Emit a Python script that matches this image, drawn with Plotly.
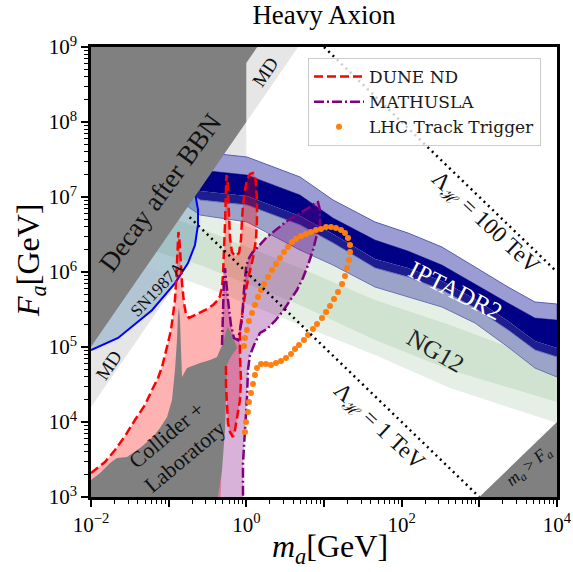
import numpy as np
import plotly.graph_objects as go

SERIF = "Liberation Serif, DejaVu Serif, serif"

# ===== data: log10(m_a / GeV) and log10(F_a / GeV) =====
md_low_lm = [-2.0, 0.0, 0.0, -2.0]
md_low_lf = [4.2, 7.2, 8.0, 5.0]
md_up_lm = [0.0, 0.667, 0.142, 0.0]
md_up_lf = [8.0, 9.0, 9.0, 8.787]

bbn_lm = [-2.0, 0.0, 0.0, 0.142, -2.0]
bbn_lf = [5.0, 8.0, 8.787, 9.0, 9.0]

sn_lm = [-2.0, -1.652, -1.215, -0.918, -0.751, -0.661, -0.622, -0.622, -0.655]
sn_lf = [4.96, 5.12, 5.49, 5.853, 6.12, 6.36, 6.63, 6.83, 7.02]

ipta_lm = [-1.0, -0.597, 0.009, 0.691, 1.116, 1.657, 2.081, 2.519, 2.944, 3.369, 3.716, 4.0]
ipta_outer_hi = [7.90, 7.600, 7.533, 7.267, 6.960, 6.667, 6.520, 6.333, 6.067, 5.800, 5.600, 5.573]
ipta_core_hi = [7.65, 7.360, 7.293, 7.027, 6.720, 6.427, 6.280, 6.093, 5.840, 5.587, 5.387, 5.360]
ipta_core_lo = [7.25, 6.960, 6.893, 6.627, 6.387, 6.053, 5.933, 5.760, 5.520, 5.227, 4.960, 4.867]
ipta_outer_lo = [7.05, 6.760, 6.667, 6.293, 6.093, 5.800, 5.667, 5.533, 5.320, 5.000, 4.720, 4.600]

ng_lm = [-1.6, -1.240, -0.597, 0.691, 1.657, 2.622, 4.0]
ng_outer_hi = [7.20, 7.027, 6.827, 6.360, 6.000, 5.627, 5.027]
ng_core_hi = [7.00, 6.827, 6.587, 6.053, 5.627, 5.293, 4.760]
ng_core_lo = [6.50, 6.293, 6.093, 5.560, 5.093, 4.693, 4.267]
ng_outer_lo = [6.25, 6.053, 5.827, 5.293, 4.893, 4.453, 3.987]

coll_lm = [-2.0, -2.0, -1.884, -1.755, -1.665, -1.537, -1.369, -1.202, -1.112, -1.021, -0.957,
           -0.919, -0.893, -0.880, -0.867, -0.854, -0.841, -0.828, -0.764, -0.597, -0.468, -0.378,
           -0.300, -0.262, -0.236, -0.185, -0.120, -0.210, -0.249, -0.262, -0.275, -0.313, -0.365]
coll_lf = [3.0, 3.227, 3.32, 3.453, 3.52, 3.533, 3.653, 3.80, 3.92, 4.067, 4.293,
           4.693, 5.093, 5.427, 5.533, 5.36, 4.96, 4.60, 4.72, 4.787, 4.827, 4.867,
           5.053, 5.2, 5.267, 5.16, 4.987, 4.853, 4.76, 4.293, 3.893, 3.36, 3.0]

dune_lm = [-2.000, -1.820, -1.691, -1.562, -1.434, -1.305, -1.215, -1.137, -1.086, -1.034, -1.009,
           -0.970, -0.944, -0.919, -0.906, -0.893, -0.880, -0.874, -0.861, -0.848, -0.828, -0.803,
           -0.777, -0.738, -0.661, -0.597, -0.506, -0.429, -0.365, -0.339, -0.313, -0.300, -0.288,
           -0.275, -0.262, -0.256, -0.243, -0.230, -0.210, -0.185, -0.146, -0.094, -0.069, -0.056,
           -0.043, -0.017, 0.009, 0.047, 0.086, 0.111, 0.124, 0.137, 0.137, 0.124, 0.086, 0.034,
           -0.017, -0.056, -0.082, -0.082, -0.069, -0.082, -0.107, -0.146, -0.172, -0.210, -0.236,
           -0.249, -0.262, -0.262]
dune_lf = [3.320, 3.467, 3.627, 3.813, 4.027, 4.227, 4.427, 4.587, 4.733, 4.933, 5.053,
           5.227, 5.400, 5.627, 5.853, 6.093, 6.360, 6.533, 6.427, 6.133, 5.853, 5.587,
           5.440, 5.387, 5.427, 5.453, 5.507, 5.560, 5.627, 5.680, 5.800, 5.960, 6.227,
           6.627, 7.093, 7.293, 7.253, 6.827, 6.453, 6.267, 6.213, 6.253, 6.427, 6.693,
           6.893, 7.093, 7.227, 7.307, 7.320, 7.280, 7.187, 6.960, 6.693, 6.427, 6.187, 5.960,
           5.693, 5.427, 5.227, 4.893, 4.560, 4.293, 4.120, 3.893, 3.800, 3.867, 3.987,
           4.227, 4.493, 4.787]
dune_close_lm = [-0.30, -0.33, -2.0]
dune_close_lf = [4.0, 3.0, 3.0]

math_lm = [-0.313, -0.300, -0.288, -0.275, -0.262, -0.236, -0.198, -0.159, -0.107, -0.056, -0.030,
           -0.004, 0.021, 0.073, 0.137, 0.266, 0.395, 0.524, 0.691, 0.820, 0.884, 0.923, 0.948,
           0.948, 0.897, 0.858, 0.794, 0.729, 0.652, 0.562, 0.472, 0.369, 0.266, 0.176, 0.099,
           0.047, 0.021, 0.009, -0.017, -0.043, -0.043]
math_lf = [5.027, 5.627, 5.893, 6.053, 5.893, 5.627, 5.293, 5.120, 5.093, 5.360, 5.760,
           6.053, 6.160, 6.253, 6.320, 6.467, 6.573, 6.680, 6.787, 6.867, 6.920, 6.933, 6.827,
           6.627, 6.453, 6.293, 6.093, 5.920, 5.760, 5.613, 5.480, 5.347, 5.240, 5.187, 5.027,
           4.893, 4.693, 4.333, 3.893, 3.453, 3.000]
math_close_lm = [-0.365]
math_close_lf = [3.0]

lhc_lm = [-0.017, -0.004, 0.021, 0.034, 0.060, 0.086, 0.111, 0.137,
          0.189, 0.253, 0.317, 0.382, 0.446, 0.511, 0.575, 0.627, 0.678, 0.742, 0.794, 0.858,
          0.910, 0.974, 1.026, 1.077, 1.129, 1.180, 1.232, 1.270, 1.296, 1.322, 1.335, 1.335,
          1.309, 1.270, 1.219, 1.154, 1.090, 1.026, 0.961, 0.897, 0.833, 0.768, 0.704, 0.639,
          0.588, 0.536, 0.485, 0.433, 0.382, 0.330, 0.279, 0.227, 0.189, 0.150, 0.111, 0.073,
          0.034, 0.008, -0.017, -0.030]
lhc_lf = [3.867, 4.000, 4.133, 4.267, 4.387, 4.507, 4.627, 4.720,
          4.773, 4.773, 4.760, 4.787, 4.813, 4.853, 4.907, 4.973, 5.027, 5.093, 5.160, 5.240,
          5.307, 5.387, 5.467, 5.547, 5.640, 5.733, 5.840, 5.947, 6.053, 6.160, 6.267, 6.360,
          6.453, 6.520, 6.560, 6.587, 6.600, 6.600, 6.573, 6.560, 6.533, 6.507, 6.480, 6.440,
          6.400, 6.333, 6.267, 6.187, 6.107, 6.027, 5.933, 5.840, 5.760, 5.667, 5.560, 5.453,
          5.347, 5.227, 5.120, 5.013]

lambda_gev = [1e3, 1e5]          # Lambda_H = 1 TeV, 100 TeV
lambda_lm_start = [-0.73, 1.0]
lambda_lm_end = [3.0, 4.0]

x_tick_vals = [1e-2, 1e-1, 1e0, 1e1, 1e2, 1e3, 1e4]
x_tick_text = ["10<sup>−2</sup>", "", "10<sup>0</sup>", "", "10<sup>2</sup>", "", "10<sup>4</sup>"]
y_tick_vals = [1e3, 1e4, 1e5, 1e6, 1e7, 1e8, 1e9]
y_tick_text = ["10<sup>%d</sup>" % k for k in range(3, 10)]


def P(a):
    return [10.0 ** v for v in a]


fig = go.Figure()


def poly(lm, lf, color, line=None):
    kw = dict(x=P(lm), y=P(lf), fill="toself", fillcolor=color, hoverinfo="skip", showlegend=False)
    if line is None:
        kw["mode"] = "none"
    else:
        kw["mode"] = "lines"
        kw["line"] = line
    fig.add_trace(go.Scatter(**kw))


def band(lm, hi, lo, color, line=None):
    poly(list(lm) + list(lm[::-1]), list(hi) + list(lo[::-1]), color, line)


# MD
poly(md_low_lm, md_low_lf, "#e6e6e6")
poly(md_up_lm, md_up_lf, "#e6e6e6")
# NG12
band(ng_lm, ng_outer_hi, ng_outer_lo, "#e6efe6")
band(ng_lm, ng_core_hi, ng_core_lo, "#d0e2d0")
# IPTA DR2
strip_hi = [v + 0.12 for v in ipta_core_lo]
band(ipta_lm, ipta_outer_hi, ipta_core_hi, "#9c9cd5", dict(color="#5a5ab0", width=1))
band(ipta_lm, ipta_core_hi, strip_hi, "#000086")
band(ipta_lm, strip_hi, ipta_core_lo, "#1d1d8f")
band(ipta_lm, ipta_core_lo, ipta_outer_lo, "#9ba3c9", dict(color="#6a72b5", width=1))
# SN1987A
poly(sn_lm + [-2.0], sn_lf + [5.0], "rgba(70,130,180,0.33)")
fig.add_trace(go.Scatter(x=P(sn_lm), y=P(sn_lf), mode="lines", line=dict(color="#0000ff", width=2),
                         hoverinfo="skip", showlegend=False))
# BBN
poly(bbn_lm, bbn_lf, "#808080")
# DUNE / MATHUSLA fills
poly(dune_lm + dune_close_lm, dune_lf + dune_close_lf, "rgba(255,0,0,0.3)")
poly(math_lm + math_close_lm, math_lf + math_close_lf, "rgba(128,0,128,0.3)")
# Collider + Laboratory
poly(coll_lm, coll_lf, "#808080")
# outlines
fig.add_trace(go.Scatter(x=P(dune_lm), y=P(dune_lf), mode="lines", name="DUNE ND",
                         line=dict(color="#ff0000", width=2.5, dash="9px,4px"),
                         hoverinfo="skip", legendrank=1))
fig.add_trace(go.Scatter(x=P(math_lm), y=P(math_lf), mode="lines", name="MATHUSLA",
                         line=dict(color="#800080", width=2.5, dash="10px,3px,2px,3px"),
                         hoverinfo="skip", legendrank=2))
fig.add_trace(go.Scatter(x=P(lhc_lm), y=P(lhc_lf), mode="markers", name="LHC Track Trigger",
                         marker=dict(color="#ff7f0e", size=6, line=dict(width=0)),
                         hoverinfo="skip", legendrank=3))
# Lambda_H lines: F_a = Lambda^2 / m_a
for lam, a, b in zip(lambda_gev, lambda_lm_start, lambda_lm_end):
    m = np.logspace(a, b, 50)
    fig.add_trace(go.Scatter(x=m, y=lam ** 2 / m, mode="lines",
                             line=dict(color="black", width=2.5, dash="2px,4px"),
                             hoverinfo="skip", showlegend=False))
# m_a > F_a
fig.add_trace(go.Scatter(x=[1e3, 1e4, 1e4], y=[1e3, 1e3, 1e4], fill="toself", fillcolor="#808080",
                         mode="none", hoverinfo="skip", showlegend=False))

TXT = "#111111"


def note(text, lx, ly, ang, size, color=TXT):
    fig.add_annotation(x=lx, y=ly, xref="x", yref="y", text=text, showarrow=False,
                       textangle=ang, font=dict(family=SERIF, size=size, color=color))


note("Decay after BBN", -1.11, 7.05, -54, 27)
note("SN1987A", -1.15, 5.77, -46, 17)
note("MD", -1.78, 4.76, -56, 19)
note("MD", 0.25, 8.67, -56, 19)
note("Collider +<br>Laboratory", -0.91, 3.68, -40, 22)
note("IPTADR2", 2.69, 5.75, 27, 25, "white")
note("NG12", 2.43, 4.95, 30, 25, "#222222")
note("Λ<sub>ℋ</sub> = 100 TeV", 3.07, 6.65, 43, 23)
note("Λ<sub>ℋ</sub> = 1 TeV", 1.70, 3.93, 43, 23)
note("<i>m<sub>a</sub></i> > <i>F<sub>a</sub></i>", 3.64, 3.40, -40, 17)

# axis titles (paper coordinates)
fig.add_annotation(x=(330 - 91) / 466, y=-(548 - 497) / 450, xref="paper", yref="paper",
                   xanchor="center", yanchor="middle",
                   text="<i>m</i><sub><i>a</i></sub>[GeV]", showarrow=False,
                   font=dict(family=SERIF, size=32, color="black"))
fig.add_annotation(x=(30 - 91) / 466, y=1 - (260 - 47) / 450, xref="paper", yref="paper",
                   xanchor="center", yanchor="middle",
                   text="<i>F</i><sub><i>a</i></sub>[GeV]", showarrow=False, textangle=-90,
                   font=dict(family=SERIF, size=32, color="black"))

minor_x = [k * 10.0 ** d for d in range(-2, 4) for k in range(2, 10)]
minor_y = [k * 10.0 ** d for d in range(3, 9) for k in range(2, 10)]

axis_common = dict(type="log", showgrid=False, zeroline=False, showline=True, linecolor="black",
                   linewidth=2.5, mirror=True, ticks="outside", ticklen=7, tickwidth=1.5,
                   tickcolor="black", automargin=False,
                   tickfont=dict(family=SERIF, size=21, color="black"))

fig.update_layout(
    width=573, height=572,
    margin=dict(l=91, r=16, t=47, b=75, autoexpand=False),
    paper_bgcolor="white", plot_bgcolor="white",
    hovermode=False,
    title=dict(text="Heavy Axion", x=0.5, xref="paper", xanchor="center", y=1 - 15 / 572,
               yref="container", yanchor="middle", font=dict(family=SERIF, size=27, color="black")),
    xaxis=dict(range=[-2, 4], tickmode="array", tickvals=x_tick_vals, ticktext=x_tick_text,
               minor=dict(tickmode="array", tickvals=minor_x, ticks="outside", ticklen=4,
                          tickwidth=1, tickcolor="black", showgrid=False),
               **axis_common),
    yaxis=dict(range=[3, 9], tickmode="array", tickvals=y_tick_vals, ticktext=y_tick_text,
               minor=dict(tickmode="array", tickvals=minor_y, ticks="outside", ticklen=4,
                          tickwidth=1, tickcolor="black", showgrid=False),
               **axis_common),
    legend=dict(x=(308 - 91) / 466, y=1 - (58 - 47) / 450, xanchor="left", yanchor="top",
                bgcolor="rgba(255,255,255,0.8)", bordercolor="#cccccc", borderwidth=1,
                itemwidth=50, tracegroupgap=0,
                font=dict(family="DejaVu Serif, serif", size=17, color="#1a1a1a")),
)

fig.write_html("out.html", config={"displayModeBar": False},
               post_script="document.body.style.margin='0';")
